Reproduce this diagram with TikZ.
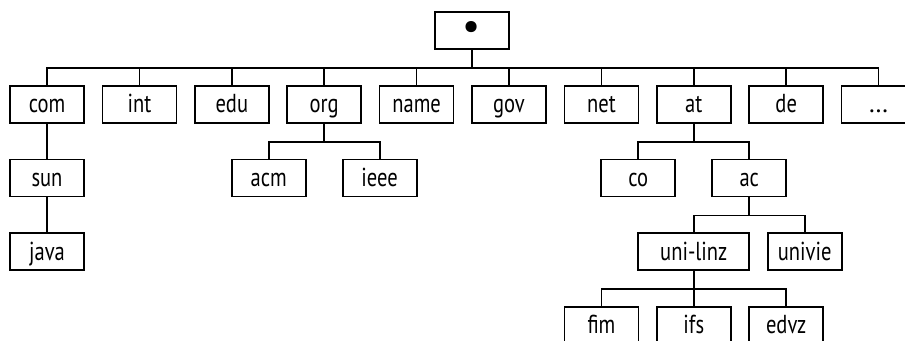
\documentclass[tikz,border=0pt]{standalone}
\usepackage{fontspec}
\setmainfont{PT Sans}[FakeStretch=0.79]
\newfontfamily\roundfont{PT Sans}
\usetikzlibrary{positioning}

\begin{document}
\begin{tikzpicture}[
        on grid, node distance=55.3pt and 69.3pt, line width=1.3pt,
        every node/.style={draw, line width=1.3pt, minimum width=55.5pt,
          minimum height=27.75pt, inner sep=0pt, text height=12.4pt, text depth=0pt,
          font=\fontsize{19.5}{19.5}\selectfont},
        fork/.style={to path={(\tikztostart.south) -- ++(0,-13.6pt) -| (\tikztotarget.north)}}
        ]

        \useasboundingbox (-354pt,22.9pt) rectangle (324.75pt,-232.1pt);
        \clip (-354pt,22.9pt) rectangle (324.75pt,-232.1pt);

        % root and top level domains
        \node (root) [font=\roundfont\fontsize{30}{30}\selectfont, text height=12.8pt] {\textbullet};
        \node (gov)   [below right=55.3pt and 27.75pt of root] {gov};
        \node (name)  [left=of gov]                     {name};
        \node (org)   [left=of name]                    {org};
        \node (edu)   [left=of org]                     {edu};
        \node (int)   [left=of edu]                     {int};
        \node (com)   [left=of int]                     {com};
        \node (net)   [right=of gov]                    {net};
        \node (at)    [right=of net]                    {at};
        \node (de)    [right=of at]                     {de};
        \node (more)  [right=of de]                     {\roundfont\ldots};

        % second level
        \node (sun)   [below=of com]                    {sun};
        \node (acm)   [below left=55.3pt and 41.6pt of org]  {acm};
        \node (ieee)  [below right=55.3pt and 41.6pt of org] {ieee};
        \node (co)    [below left=55.3pt and 41.6pt of at]   {co};
        \node (ac)    [below right=55.3pt and 41.6pt of at]  {ac};

        % third and fourth level
        \node (java)  [below=of sun]                    {java};
        \node (linz)  [below left=55.3pt and 41.6pt of ac, minimum width=83.25pt] {uni-linz};
        \node (vie)   [below right=55.3pt and 41.6pt of ac]  {univie};
        \node (ifs)   [below=of linz]                   {ifs};
        \node (fim)   [left=of ifs]                     {fim};
        \node (edvz)  [right=of ifs]                    {edvz};

        \draw (root) edge[fork] (com) edge[fork] (int) edge[fork] (edu)
                     edge[fork] (org) edge[fork] (name) edge[fork] (gov)
                     edge[fork] (net) edge[fork] (at) edge[fork] (de)
                     edge[fork] (more);
        \draw (com) edge[fork] (sun)  (sun) edge[fork] (java);
        \draw (org) edge[fork] (acm)  (org) edge[fork] (ieee);
        \draw (at)  edge[fork] (co)   (at)  edge[fork] (ac);
        \draw (ac)  edge[fork] (linz) (ac)  edge[fork] (vie);
        \draw (linz) edge[fork] (fim) (linz) edge[fork] (ifs) (linz) edge[fork] (edvz);
      \end{tikzpicture}
\end{document}
